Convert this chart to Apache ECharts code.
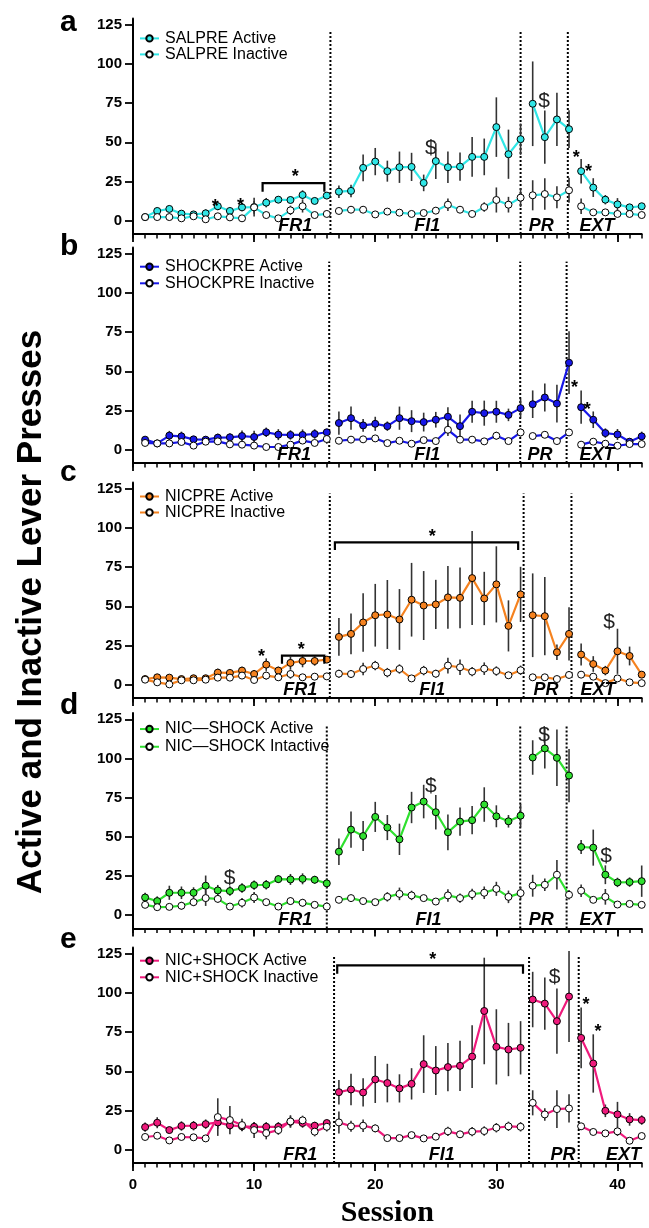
<!DOCTYPE html>
<html><head><meta charset="utf-8">
<script src="https://cdn.jsdelivr.net/npm/echarts@6/dist/echarts.min.js"></script>
<style>html,body{margin:0;padding:0;background:#fff}#c{width:649px;height:1228px}</style>
</head><body><div id="c"></div>
<script>
// ---------------- DATA ----------------
const SESSIONS = [1,2,3,4,5,6,7,8,9,10,11,12,13,14,15,16,17,18,19,20,21,22,23,24,25,26,27,28,29,30,31,32,33,34,35,36,37,38,39,40,41,42];
const PHASE_ENDS = [16, 32, 36];
const PHASES = ['FR1', 'FI1', 'PR', 'EXT'];
const X_TICKS_MINOR = [0,1,2,3,4,5,6,7,8,9,10,11,12,13,14,15,16,17,18,19,20,21,22,23,24,25,26,27,28,29,30,31,32,33,34,35,36,37,38,39,40,41,42];
const X_TICKS_MAJOR = [0, 10, 20, 30, 40];
const Y_TICKS = [0, 25, 50, 75, 100, 125];

const GROUPS = ['SALPRE', 'SHOCKPRE', 'NICPRE', 'NIC\u2014SHOCK', 'NIC+SHOCK'];
const ACTIVE_NAMES = ['SALPRE Active', 'SHOCKPRE Active', 'NICPRE Active', 'NIC\u2014SHOCK Active', 'NIC+SHOCK Active'];
const INACTIVE_NAMES = ['SALPRE Inactive', 'SHOCKPRE Inactive', 'NICPRE Inactive', 'NIC\u2014SHOCK Intactive', 'NIC+SHOCK Inactive'];
const PANEL_LETTERS = ['a', 'b', 'c', 'd', 'e'];

// panel a: SALPRE
const actA = [2.3,6.2,7.5,4.5,4.0,4.7,9.2,6.2,8.5,8.7,11.5,13.4,13.2,16.4,12.6,16.0, 18.5,19.0,33.7,37.7,31.6,34.1,34.3,24.1,38.0,34.1,34.5,40.7,40.7,59.7,42.4,52.0, 74.6,53.3,64.6,58.4, 31.6,21.1,13.4,10.4,8.5,9.2];
const errA = [1,2,2,1.5,1,2.5,2.5,2,2.5,6,3,2,2,3,2,2, 4,4,8.5,8.7,6.7,10,9,5.3,11.4,10,9,12.7,11.7,19,15.7,10, 27,17,17,12, 7.8,6,3,4,1,2];
const inaA = [2.3,2.3,2.3,1.5,2.8,0.9,2.8,2.1,1.5,8.5,3.6,1.5,6.6,9.2,3.6,4.3, 6.2,7.0,7.0,4.0,5.8,5.1,4.3,4.9,6.4,10.2,7.0,4.3,8.7,13.2,10.2,14.7, 16.2,17.0,14.9,19.4, 9.2,5.3,5.3,4.3,4.3,3.6];
const ierA = [1,1,1,1,1,1,1,1,1,4,1.5,1,3,4,1,1.5, 2,2,2,1,1.5,1.5,1,1.5,2,4,2,1.5,3,8,5,6, 9.6,10,7,8, 5,1,1.5,1,1,1];

// panel b: SHOCKPRE
const actB = [6.4,4.0,9.0,8.5,6.6,6.4,7.7,7.9,8.7,8.1,11.1,9.6,9.4,9.4,10.0,11.1, 17.0,20.1,15.5,16.5,15.0,20.1,18.2,17.6,19.1,21.0,15.0,24.2,23.3,24.2,22.2,26.5, 29.0,33.3,29.4,55.5, 27.1,19.1,10.6,9.7,5.1,8.5];
const errB = [1.5,1.5,3,3,2,2,2.5,2.5,3.5,4,3,3.5,3,3.5,3,2, 7.4,7.4,4,4.5,3,7.4,7,6,5,6,7.4,7,8,7,4,6, 8.8,9,12,20, 10.6,5.3,3,3.5,2,3];
const inaB = [4.3,4.0,4.0,4.9,2.6,5.1,5.3,3.4,3.2,2.6,1.7,1.7,3.2,5.8,4.3,6.8, 5.7,6.4,6.6,7.2,4.2,5.7,3.8,6.1,5.5,12.7,6.4,6.4,5.3,8.9,5.5,11.0, 8.7,9.5,5.5,11.0, 3.2,5.1,3.8,2.5,3.6,3.6];
const ierB = [1,1,1,1.5,1,1.5,2,1,1,1,1,1,1.5,2,1.5,3, 1.5,1.5,1.5,1.5,1,1.5,1,1.5,1.5,4,1.5,1.5,1.5,2.5,1.5,2.5, 2,2,2,2, 1,1,1,1,1,1];

// panel c: NICPRE
const actC = [3.6,4.7,4.5,3.6,4.1,4.1,7.7,7.5,9.0,6.8,12.8,9.0,13.9,15.1,15.1,16.0, 30.5,32.4,39.7,44.3,44.8,41.6,54.2,50.5,51.2,55.7,55.4,68.0,55.0,64.0,37.5,57.6, 44.3,43.7,20.7,32.4, 19.2,13.2,9.0,21.3,18.3,6.4];
const errC = [1,1.5,1.5,1,1.5,1.5,2.5,2,2.5,2.5,4,2.5,4,4,3,2, 12,13,18.7,20,22,19.4,23.5,22,15.7,20,19.4,30,17,24.3,16.3,17.6, 26.7,25,5,17, 7,5,3,14.4,6,1];
const inaC = [3.2,1.5,0.2,2.8,2.8,3.2,4.5,4.5,5.8,3.0,5.8,4.7,6.8,4.7,5.1,5.3, 7.0,6.8,10.0,12.2,7.7,10.0,4.0,9.0,7.0,12.2,11.1,8.3,10.2,8.7,6.0,9.2, 4.7,4.7,3.6,6.2, 6.4,5.1,1.0,4.0,1.5,1.0];
const ierC = [1,1,1,1.5,1.5,1,2,2,2,1,2.5,2,3,2,1,1, 2.5,2.5,4,3,3,3,1,3,2.5,5,5,3,4,3,2,3, 1.5,1.5,1,2, 2,2,1,1.5,1,1];

// panel d: NIC—SHOCK
const actD = [11.3,9.0,14.3,14.3,14.3,18.8,15.8,15.4,17.3,19.2,19.4,23.0,22.8,23.2,22.6,20.3, 40.5,54.6,50.5,62.7,55.9,48.4,68.7,72.5,65.7,52.9,59.7,60.6,70.6,63.1,59.9,63.5, 100.6,106.4,100.4,89.1, 43.5,43.1,25.8,20.9,21.1,21.7];
const errD = [3,3,4.5,4,3.5,6.5,3.5,3,3,3,3,2.5,3.5,3.5,2.5,3, 8.5,11.5,9.6,9.6,8,10,10,10.7,11,11.4,9,9,11,7,4,7.5, 11,12.8,18,17, 4.5,11.5,6,3,3,10];
const inaD = [6.6,5.1,5.3,6.0,8.3,10.9,10.4,5.5,7.9,11.3,8.3,5.5,9.0,7.9,6.6,5.5, 9.8,10.9,9.0,8.3,11.7,13.6,12.6,10.9,8.7,12.6,10.9,13.4,14.3,16.8,11.7,14.1, 18.8,19.4,25.8,13.0, 15.6,9.8,11.7,6.8,7.2,6.6];
const ierD = [2,1.5,1.5,2.5,2.5,5,2.5,1,3,3.5,2,1,2.5,2.5,2,1.5, 2,2,1.5,1.5,3,4,3,2,2,4,3,3.5,4,4.5,4,4, 7,4,9.4,3, 4,1,5,1,1,1];

// panel e: NIC+SHOCK
const actE = [14.4,17.2,12.5,15.1,15.3,16.3,17.4,15.5,14.9,14.6,14.6,14.6,17.8,17.0,15.3,17.0, 36.7,38.4,36.5,44.8,42.5,39.1,42.0,54.6,50.5,52.7,53.5,59.4,88.5,65.6,63.9,65.0, 95.8,93.2,82.0,97.7, 71.3,55.0,24.8,22.5,19.3,18.9];
const errE = [3,3.5,2,3,3,3,4,3,3,3,3,3,3.5,3,2.5,2, 7.8,10,9,15,12.3,9,10,18.4,15.6,15.4,16,20,34,24,17,17, 17.7,16.7,20.8,29, 19.4,18.6,4,8,4,3];
const inaE = [8.1,8.9,5.9,8.1,7.9,7.2,20.8,18.9,15.7,12.5,10.6,12.5,18.0,18.7,11.5,14.6, 17.4,14.9,15.3,13.6,7.4,7.4,9.3,7.2,8.3,11.7,9.8,11.5,11.9,14.0,14.9,14.6, 29.9,22.5,25.9,26.3, 14.9,11.3,10.4,11.7,5.7,8.7];
const ierE = [2,2,1,2,1,1,12,9,4,5,4,3,4,3,3,3, 7,3.5,4,2.5,1.5,2,2,1,2,3,2,3,3,3,3,3, 8,4,12,9, 2,2,2,3,1,2];

// annotations (data coordinates: session, presses)
const MARKS_A = [['*',6.8,11.5],['*',8.87,12.1],['*',13.4,30.5],['$',24.6,46.5],['$',33.95,76],['*',36.6,43],['*',37.6,34]];
const MARKS_B = [['*',36.46,42],['*',37.5,28.2]];
const MARKS_C = [['*',10.6,20.7],['*',13.9,25],['*',24.7,97.2],['$',39.3,40]];
const MARKS_D = [['$',7.98,23.7],['$',24.6,82],['$',33.95,115],['$',39.05,37.5]];
const MARKS_E = [['*',24.75,124],['$',34.8,110],['*',37.4,95.3],['*',38.4,78]];
const BRACKETS_A = [[10.7,15.8,24,18.5]];
const BRACKETS_B = [];
const BRACKETS_C = [[12.3,15.8,18.6,13.3],[16.67,31.8,90.8,86]];
const BRACKETS_D = [];
const BRACKETS_E = [[16.86,32.2,117.6,112.3]];
const PHASE_LABEL_X = [[13.4,24.3,33.7,38.3],[13.3,24.3,33.6,38.3],[13.8,24.7,34.1,38.4],[13.4,24.4,33.7,38.3],[13.8,25.5,35.5,40.5]];
const PHASE_LABEL_Y = -3.3;
const DIVIDERS_X = [[16.3,32.0,35.9],[16.2,31.97,35.8],[16.25,32.25,36.2],[16.0,31.97,35.8],[16.6,32.7,36.8]];
const DIVIDER_TOP = [121,120,122,121,124];

const ACT = [actA, actB, actC, actD, actE];
const AERR = [errA, errB, errC, errD, errE];
const INA = [inaA, inaB, inaC, inaD, inaE];
const IERR = [ierA, ierB, ierC, ierD, ierE];
const MARKS = [MARKS_A, MARKS_B, MARKS_C, MARKS_D, MARKS_E];
const BRACKETS = [BRACKETS_A, BRACKETS_B, BRACKETS_C, BRACKETS_D, BRACKETS_E];

// ---------------- STYLE / LAYOUT ----------------
const COLORS = ['#30e6e6', '#1717e8', '#f5821f', '#2fe02f', '#ef1a7c'];
const GRID_TOPS = [18.5, 247.5, 482.5, 713, 947.5];
const GRID_H = 215.5;
const LEGEND_TOPS = [30.4, 258.4, 488.5, 720.2, 952.4];
const LEGEND_LH = [14.6, 16.6, 14.3, 17.7, 16.6];
const LETTER_BASE = [32, 256, 482, 715, 949];
const FONT = '"Liberation Sans", Arial, Helvetica, sans-serif';
const Y_MIN = -8.5, Y_MAX = 129;

function lineData(vals) {
  const out = [];
  for (let i = 0; i < SESSIONS.length; i++) {
    out.push([SESSIONS[i], vals[i]]);
    if (PHASE_ENDS.indexOf(SESSIONS[i]) >= 0) out.push([SESSIONS[i] + 0.5, '-']);
  }
  return out;
}
function errData(vals, errs) {
  return SESSIONS.map((s, i) => [s, vals[i], errs[i]]);
}
function errRender(params, api) {
  const x = api.value(0), y = api.value(1), e = api.value(2);
  const p1 = api.coord([x, y - e]), p2 = api.coord([x, y + e]);
  return { type: 'line', shape: { x1: p1[0], y1: p1[1], x2: p2[0], y2: p2[1] },
           style: { stroke: '#333', lineWidth: 1.6 } };
}

const grids = [], xAxes = [], yAxes = [], series = [], legends = [], graphics = [];

for (let p = 0; p < 5; p++) {
  grids.push({ left: 133, right: 7.3, top: GRID_TOPS[p], height: GRID_H, containLabel: false, outerBoundsMode: 'none' });
  const last = p === 4;
  xAxes.push({
    type: 'value', gridIndex: p, min: 0, max: 42, position: 'bottom', offset: 0,
    axisLine: { show: true, onZero: false, lineStyle: { color: '#000', width: 2 } },
    axisTick: { show: true, customValues: X_TICKS_MINOR, length: 4.5, lineStyle: { color: '#000', width: 1.5 } },
    axisLabel: { show: false }, splitLine: { show: false }
  });
  xAxes.push({
    type: 'value', gridIndex: p, min: 0, max: 42, position: 'bottom', offset: 0,
    axisLine: { show: false, onZero: false },
    axisTick: { show: true, customValues: X_TICKS_MAJOR, length: 8, lineStyle: { color: '#000', width: 1.8 } },
    axisLabel: { show: last, customValues: X_TICKS_MAJOR, margin: 14, color: '#000', fontFamily: FONT, fontWeight: 'bold', fontSize: 15 },
    splitLine: { show: false },
    name: last ? 'Session' : '', nameLocation: 'middle', nameGap: 35,
    nameTextStyle: { fontFamily: '"Liberation Serif", "Times New Roman", serif', fontWeight: 'bold', fontSize: 30, color: '#000' }
  });
  yAxes.push({
    type: 'value', gridIndex: p, min: Y_MIN, max: Y_MAX, position: 'left',
    axisLine: { show: true, onZero: false, lineStyle: { color: '#000', width: 2 } },
    axisTick: { show: true, customValues: Y_TICKS, length: 8, lineStyle: { color: '#000', width: 1.8 } },
    axisLabel: { show: true, customValues: Y_TICKS, margin: 11, color: '#000', fontFamily: FONT, fontWeight: 'bold', fontSize: 15 },
    splitLine: { show: false }
  });
  const xi = p * 2, yi = p;

  // phase dividers
  series.push({
    type: 'custom', xAxisIndex: xi, yAxisIndex: yi, z: 1, silent: true,
    data: DIVIDERS_X[p].map(x => [x, DIVIDER_TOP[p]]),
    encode: { x: 0, y: 1 },
    renderItem: function (params, api) {
      const x = api.value(0), t = api.value(1);
      const a = api.coord([x, Y_MIN]), b = api.coord([x, t]);
      return { type: 'line', shape: { x1: a[0], y1: a[1], x2: b[0], y2: b[1] },
               style: { stroke: '#000', lineWidth: 2, lineDash: [2, 2] } };
    }
  });
  // error bars
  series.push({ type: 'custom', xAxisIndex: xi, yAxisIndex: yi, z: 2, silent: true,
    data: errData(ACT[p], AERR[p]), encode: { x: 0, y: 1 }, renderItem: errRender });
  series.push({ type: 'custom', xAxisIndex: xi, yAxisIndex: yi, z: 2, silent: true,
    data: errData(INA[p], IERR[p]), encode: { x: 0, y: 1 }, renderItem: errRender });
  // lines
  series.push({
    name: ACTIVE_NAMES[p], type: 'line', xAxisIndex: xi, yAxisIndex: yi, z: 3,
    data: lineData(ACT[p]), connectNulls: false,
    symbol: 'circle', symbolSize: 7,
    lineStyle: { color: COLORS[p], width: 2.2 },
    itemStyle: { color: COLORS[p], borderColor: '#000', borderWidth: 1 }
  });
  series.push({
    name: INACTIVE_NAMES[p], type: 'line', xAxisIndex: xi, yAxisIndex: yi, z: 4,
    data: lineData(INA[p]), connectNulls: false,
    symbol: 'circle', symbolSize: 7,
    lineStyle: { color: COLORS[p], width: 2.2 },
    itemStyle: { color: '#fff', borderColor: '#000', borderWidth: 1 }
  });
  // brackets
  if (BRACKETS[p].length) {
    series.push({
      type: 'custom', xAxisIndex: xi, yAxisIndex: yi, z: 5, silent: true,
      data: BRACKETS[p], encode: { x: [0, 1], y: [2, 3] },
      renderItem: function (params, api) {
        const x1 = api.value(0), x2 = api.value(1), y = api.value(2), t = api.value(3);
        const pts = [api.coord([x1, t]), api.coord([x1, y]), api.coord([x2, y]), api.coord([x2, t])];
        return { type: 'polyline', shape: { points: pts },
                 style: { stroke: '#000', lineWidth: 2.2, fill: null } };
      }
    });
  }
  // phase labels
  const phaseLbl = PHASE_LABEL_X[p].map(x => [x, PHASE_LABEL_Y]);
  series.push({
    type: 'custom', xAxisIndex: xi, yAxisIndex: yi, z: 6, silent: true,
    data: phaseLbl, encode: { x: 0, y: 1 },
    renderItem: function (params, api) {
      const c = api.coord([api.value(0), api.value(1)]);
      return { type: 'text', x: c[0], y: c[1],
        style: { text: PHASES[params.dataIndex], fill: '#000', fontFamily: FONT, fontWeight: 'bold',
                 fontStyle: 'italic', fontSize: 18, align: 'center', verticalAlign: 'middle' } };
    }
  });
  // significance marks
  const mk = MARKS[p];
  series.push({
    type: 'custom', xAxisIndex: xi, yAxisIndex: yi, z: 6, silent: true,
    data: mk.map(m => [m[1], m[2]]), encode: { x: 0, y: 1 },
    renderItem: function (params, api) {
      const c = api.coord([api.value(0), api.value(1)]);
      const sym = mk[params.dataIndex][0];
      const star = sym === '*';
      return { type: 'text', x: c[0], y: c[1] + (star ? 4.5 : 0),
        style: { text: sym, fill: star ? '#000' : '#222', fontFamily: FONT,
                 fontWeight: star ? 'bold' : 'normal', fontSize: star ? 18 : 21,
                 align: 'center', verticalAlign: 'middle' } };
    }
  });
  legends.push({
    data: [ACTIVE_NAMES[p], INACTIVE_NAMES[p]],
    orient: 'vertical', left: 139, top: LEGEND_TOPS[p],
    itemWidth: 19, itemHeight: 8, itemGap: 0, padding: 0,
    selectedMode: false,
    textStyle: { color: '#000', fontFamily: FONT, fontSize: 16, lineHeight: LEGEND_LH[p], padding: [0, 0, 0, 1] }
  });
  graphics.push({
    type: 'text', left: 60, top: LETTER_BASE[p] - 24,
    style: { text: PANEL_LETTERS[p], fill: '#000', fontFamily: FONT, fontWeight: 'bold', fontSize: 30 }
  });
}

graphics.push({
  type: 'text', x: 31, y: 612, rotation: Math.PI / 2,
  style: { text: 'Active and Inactive Lever Presses', fill: '#000', fontFamily: FONT,
           fontWeight: 'bold', fontSize: 35, align: 'center', verticalAlign: 'middle' }
});

const chart = echarts.init(document.getElementById('c'), null, { renderer: 'canvas' });
chart.setOption({
  animation: false,
  backgroundColor: '#fff',
  grid: grids, xAxis: xAxes, yAxis: yAxes, series: series, legend: legends, graphic: graphics
});
</script></body></html>
